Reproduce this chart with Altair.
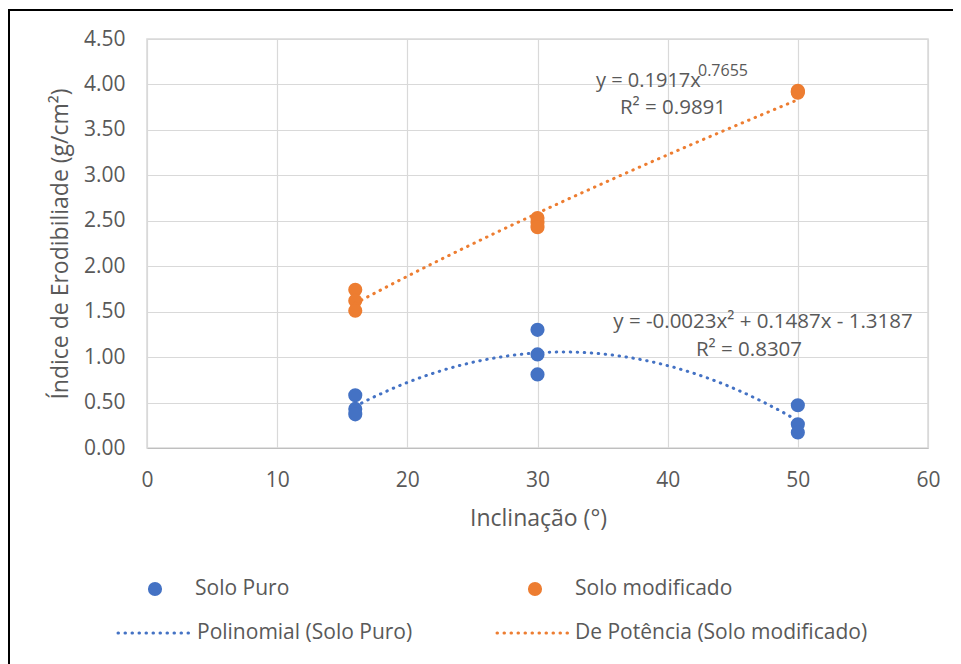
import altair as alt
import pandas as pd

# ---- data ----
inclinacao = [16, 16, 16, 30, 30, 30, 50, 50, 50]
solo_puro = [0.58, 0.43, 0.37, 1.30, 1.03, 0.81, 0.47, 0.26, 0.17]
solo_modificado = [1.74, 1.62, 1.51, 2.53, 2.48, 2.43, 3.93, 3.92, 3.91]
series = ["Solo Puro", "Solo modificado"]
colors = ["#4472C4", "#ED7D31"]
x_ticks = [0, 10, 20, 30, 40, 50, 60]
y_ticks = [0.0, 0.5, 1.0, 1.5, 2.0, 2.5, 3.0, 3.5, 4.0, 4.5]
eq_pow = ("y = 0.1917x", "0.7655", "R² = 0.9891")
eq_poly = ("y = -0.0023x² + 0.1487x - 1.3187", "R² = 0.8307")
legend_labels = ["Solo Puro", "Solo modificado",
                 "Polinomial (Solo Puro)", "De Potência (Solo modificado)"]

rows = []
for xv, a, b in zip(inclinacao, solo_puro, solo_modificado):
    rows.append({"x": xv, "y": a, "serie": series[0]})
    rows.append({"x": xv, "y": b, "serie": series[1]})
df = pd.DataFrame(rows)

W, H = 781, 409
TXT = "#595959"
FONT = "Open Sans"

xenc = alt.X("x:Q", scale=alt.Scale(domain=[0, 60], nice=False),
             axis=alt.Axis(values=x_ticks, title="Inclinação (°)", format="d",
                           labelFlush=False,
                           titleX=W / 2 + 0.5, titleY=70, titleBaseline="middle"))
yenc = alt.Y("y:Q", scale=alt.Scale(domain=[0, 4.5], nice=False),
             axis=alt.Axis(values=y_ticks, title="Índice de Erodibiliade (g/cm²)",
                           format=".2f", titleX=-87, titleY=H / 2,
                           titleAngle=270, titleBaseline="middle",
                           titleAlign="center"))

base = alt.Chart(df)

points = base.mark_circle(size=200, opacity=1).encode(
    x=xenc, y=yenc,
    color=alt.Color("serie:N", scale=alt.Scale(domain=series, range=colors), legend=None),
)

dot = dict(strokeWidth=3, strokeDash=[0.5, 6.5], strokeCap="round")

poly = base.transform_filter(alt.datum.serie == series[0]).transform_regression(
    "x", "y", method="poly", order=2
).mark_line(color=colors[0], **dot).encode(x="x:Q", y="y:Q")

pw = base.transform_filter(alt.datum.serie == series[1]).transform_regression(
    "x", "y", method="pow"
).mark_line(color=colors[1], **dot).encode(x="x:Q", y="y:Q")

one = alt.Data(values=[{"a": 1}])


def txt(text, x, y, size=20, align="left", color=TXT):
    return alt.Chart(one).mark_text(
        text=text, align=align, baseline="middle", fontSize=size, color=color, font=FONT
    ).encode(x=alt.value(x), y=alt.value(y))


annots = [
    txt(eq_pow[0], 449, 42),
    txt(eq_pow[1], 551, 32, size=16),
    txt(eq_pow[2], 526, 69, size=20.5, align="center"),
    txt(eq_poly[0], 616, 283, size=20.5, align="center"),
    txt(eq_poly[1], 602, 311, size=20.5, align="center"),
]

# manual legend below the plot
legend = [
    alt.Chart(one).mark_circle(size=200, opacity=1, color=colors[0]).encode(
        x=alt.value(8), y=alt.value(550)),
    alt.Chart(one).mark_circle(size=200, opacity=1, color=colors[1]).encode(
        x=alt.value(388), y=alt.value(550)),
    txt(legend_labels[0], 48, 550, size=21),
    txt(legend_labels[1], 428, 550, size=21),
    alt.Chart(one).mark_rule(color=colors[0], **dot).encode(
        x=alt.value(-29), x2=alt.value(45), y=alt.value(594)),
    alt.Chart(one).mark_rule(color=colors[1], **dot).encode(
        x=alt.value(350), x2=alt.value(424), y=alt.value(594)),
    txt(legend_labels[2], 50, 594, size=21),
    txt(legend_labels[3], 428, 594, size=21),
]

# outer chart frame (left and top edges)
frame = [
    alt.Chart(one).mark_rule(color="black", strokeWidth=2).encode(
        x=alt.value(-138), y=alt.value(-29), y2=alt.value(700)),
    alt.Chart(one).mark_rule(color="black", strokeWidth=2).encode(
        x=alt.value(-139), x2=alt.value(820), y=alt.value(-29)),
]

chart = alt.layer(points, poly, pw, *annots, *legend, *frame).properties(
    width=W, height=H,
    autosize=alt.AutoSizeParams(type="none"),
    padding={"left": 139, "top": 31, "right": 25, "bottom": 216},
).configure(font=FONT).configure_view(
    stroke="#d9d9d9", strokeWidth=1.5
).configure_axis(
    grid=True, gridColor="#d9d9d9", gridWidth=1.2,
    ticks=False, domain=False,
    labelFont=FONT, labelFontSize=21, labelColor=TXT,
    titleFont=FONT, titleFontSize=23, titleColor=TXT, titleFontWeight="normal",
).configure_axisX(
    labelPadding=21, domain=True, domainColor="#bfbfbf", domainWidth=1.2,
).configure_axisY(
    labelPadding=22,
)

chart.save("out.html", embed_options={"renderer": "svg", "actions": False})
